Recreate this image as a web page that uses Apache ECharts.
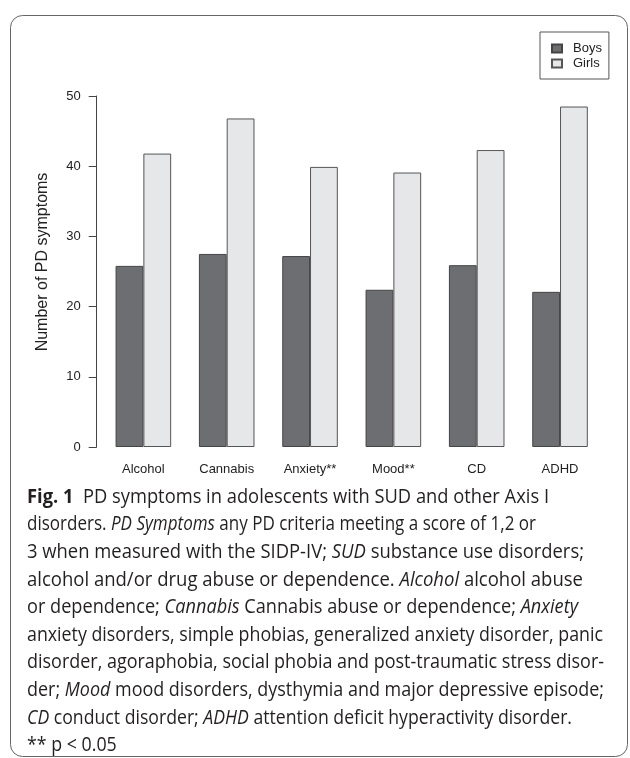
<!DOCTYPE html>
<html>
<head>
<meta charset="utf-8">
<script src="https://cdn.jsdelivr.net/npm/echarts@6/dist/echarts.min.js"></script>
<style>
html,body{margin:0;padding:0;background:#fff;}
#chart{width:630px;height:758px;}
</style>
</head>
<body>
<div id="chart"></div>
<script>
// ---- data ----
const categories = ['Alcohol', 'Cannabis', 'Anxiety**', 'Mood**', 'CD', 'ADHD'];
const boys = [25.8, 27.5, 27.2, 22.4, 25.9, 22.1];
const girls = [41.8, 46.8, 39.9, 39.1, 42.3, 48.5];
const seriesNames = ['Boys', 'Girls'];
const yTitle = 'Number of PD symptoms';
const yMin = 0, yMax = 50, yInterval = 10;

// caption lines: [style, text] segments (n normal, i italic, b bold)
const captionLines = [
  [['b', 'Fig. 1'], ['n', '  PD symptoms in adolescents with SUD and other Axis I']],
  [['n', 'disorders. '], ['i', 'PD Symptoms'], ['n', ' any PD criteria meeting a score of 1,2 or']],
  [['n', '3 when measured with the SIDP-IV; '], ['i', 'SUD'], ['n', ' substance use disorders;']],
  [['n', 'alcohol and/or drug abuse or dependence. '], ['i', 'Alcohol'], ['n', ' alcohol abuse']],
  [['n', 'or dependence; '], ['i', 'Cannabis'], ['n', ' Cannabis abuse or dependence; '], ['i', 'Anxiety']],
  [['n', 'anxiety disorders, simple phobias, generalized anxiety disorder, panic']],
  [['n', 'disorder, agoraphobia, social phobia and post-traumatic stress disor-']],
  [['n', 'der; '], ['i', 'Mood'], ['n', ' mood disorders, dysthymia and major depressive episode;']],
  [['i', 'CD'], ['n', ' conduct disorder; '], ['i', 'ADHD'], ['n', ' attention deficit hyperactivity disorder.']],
  [['n', '** p < 0.05']]
];
// right edge (px) of each caption line in the layout; null = natural width
const captionEnds = [549, 536, 584, 583, 578, 603, 604, 604, 572, null];

// ---- caption layout ----
const FS = 20;
const FAM = '"Open Sans", "Noto Sans", sans-serif';
const ctx = document.createElement('canvas').getContext('2d');
function fontOf(s) {
  return (s === 'i' ? 'italic ' : '') + (s === 'b' ? 'bold ' : '') + FS + 'px ' + FAM;
}
function lineWidth(segs) {
  let w = 0;
  segs.forEach(([s, t]) => { ctx.font = fontOf(s); w += ctx.measureText(t).width; });
  return w;
}
const capX = 27, capY0 = 497, capDY = 27.6;
const baseScale = (603 - capX) / lineWidth(captionLines[5]);
const richStyles = {
  n: { fontSize: FS, fontFamily: FAM, fill: '#231f20' },
  i: { fontSize: FS, fontFamily: FAM, fontStyle: 'italic', fill: '#231f20' },
  b: { fontSize: FS, fontFamily: FAM, fontWeight: 'bold', fill: '#231f20' }
};
const captionGraphics = captionLines.map((segs, k) => {
  const end = captionEnds[k];
  const sc = end == null ? baseScale : (end - capX) / lineWidth(segs);
  return {
    type: 'text',
    x: capX,
    y: capY0 + k * capDY,
    scaleX: sc,
    silent: true,
    style: {
      text: segs.map(([s, t]) => '{' + s + '|' + t + '}').join(''),
      rich: richStyles,
      fontSize: FS,
      fontFamily: FAM,
      verticalAlign: 'middle',
      align: 'left',
      fill: '#231f20'
    }
  };
});

const chart = echarts.init(document.getElementById('chart'), null, { renderer: 'canvas' });
const option = {
  backgroundColor: '#fff',
  animation: false,
  textStyle: { fontFamily: '"Liberation Sans", Arial, sans-serif' },
  grid: { left: 101.7, right: 28.3, top: 96, bottom: 311, containLabel: false },
  legend: {
    data: seriesNames,
    orient: 'vertical',
    left: 540,
    top: 32,
    itemWidth: 10,
    itemHeight: 8,
    itemGap: 2,
    padding: [10, 7, 9, 11],
    borderColor: '#555',
    borderWidth: 1,
    textStyle: { fontSize: 13, color: '#222', padding: [0, 0, 0, 6], fontFamily: '"Liberation Sans", Arial, sans-serif' },
    icon: 'rect'
  },
  xAxis: {
    type: 'category',
    data: categories,
    axisLine: { show: false },
    axisTick: { show: false },
    axisLabel: { margin: 16, fontSize: 13, color: '#222', interval: 0 }
  },
  yAxis: {
    type: 'value',
    min: yMin,
    max: yMax,
    interval: yInterval,
    offset: 5,
    splitLine: { show: false },
    axisLine: { show: true, lineStyle: { color: '#444', width: 1 } },
    axisTick: { show: true, length: 8, lineStyle: { color: '#444', width: 1 } },
    axisLabel: { margin: 16, fontSize: 13, color: '#222' }
  },
  series: [
    {
      name: seriesNames[0], type: 'bar', data: boys,
      barGap: '0%', barCategoryGap: '33.3%',
      itemStyle: { color: '#6d6e71', borderColor: '#444', borderWidth: 1 }
    },
    {
      name: seriesNames[1], type: 'bar', data: girls,
      barGap: '0%', barCategoryGap: '33.3%',
      itemStyle: { color: '#e6e7e8', borderColor: '#555', borderWidth: 1 }
    }
  ],
  graphic: [
    {
      type: 'rect', silent: true,
      shape: { x: 10.5, y: 15.5, width: 617, height: 741, r: 12 },
      style: { fill: 'none', stroke: '#666', lineWidth: 1 }
    },
    {
      type: 'text', silent: true,
      x: 43, y: 262, rotation: Math.PI / 2,
      style: {
        text: yTitle, fontSize: 16, fontFamily: '"Liberation Sans", Arial, sans-serif',
        fill: '#222', align: 'center', verticalAlign: 'middle'
      }
    }
  ].concat(captionGraphics)
};
chart.setOption(option);
</script>
</body>
</html>
